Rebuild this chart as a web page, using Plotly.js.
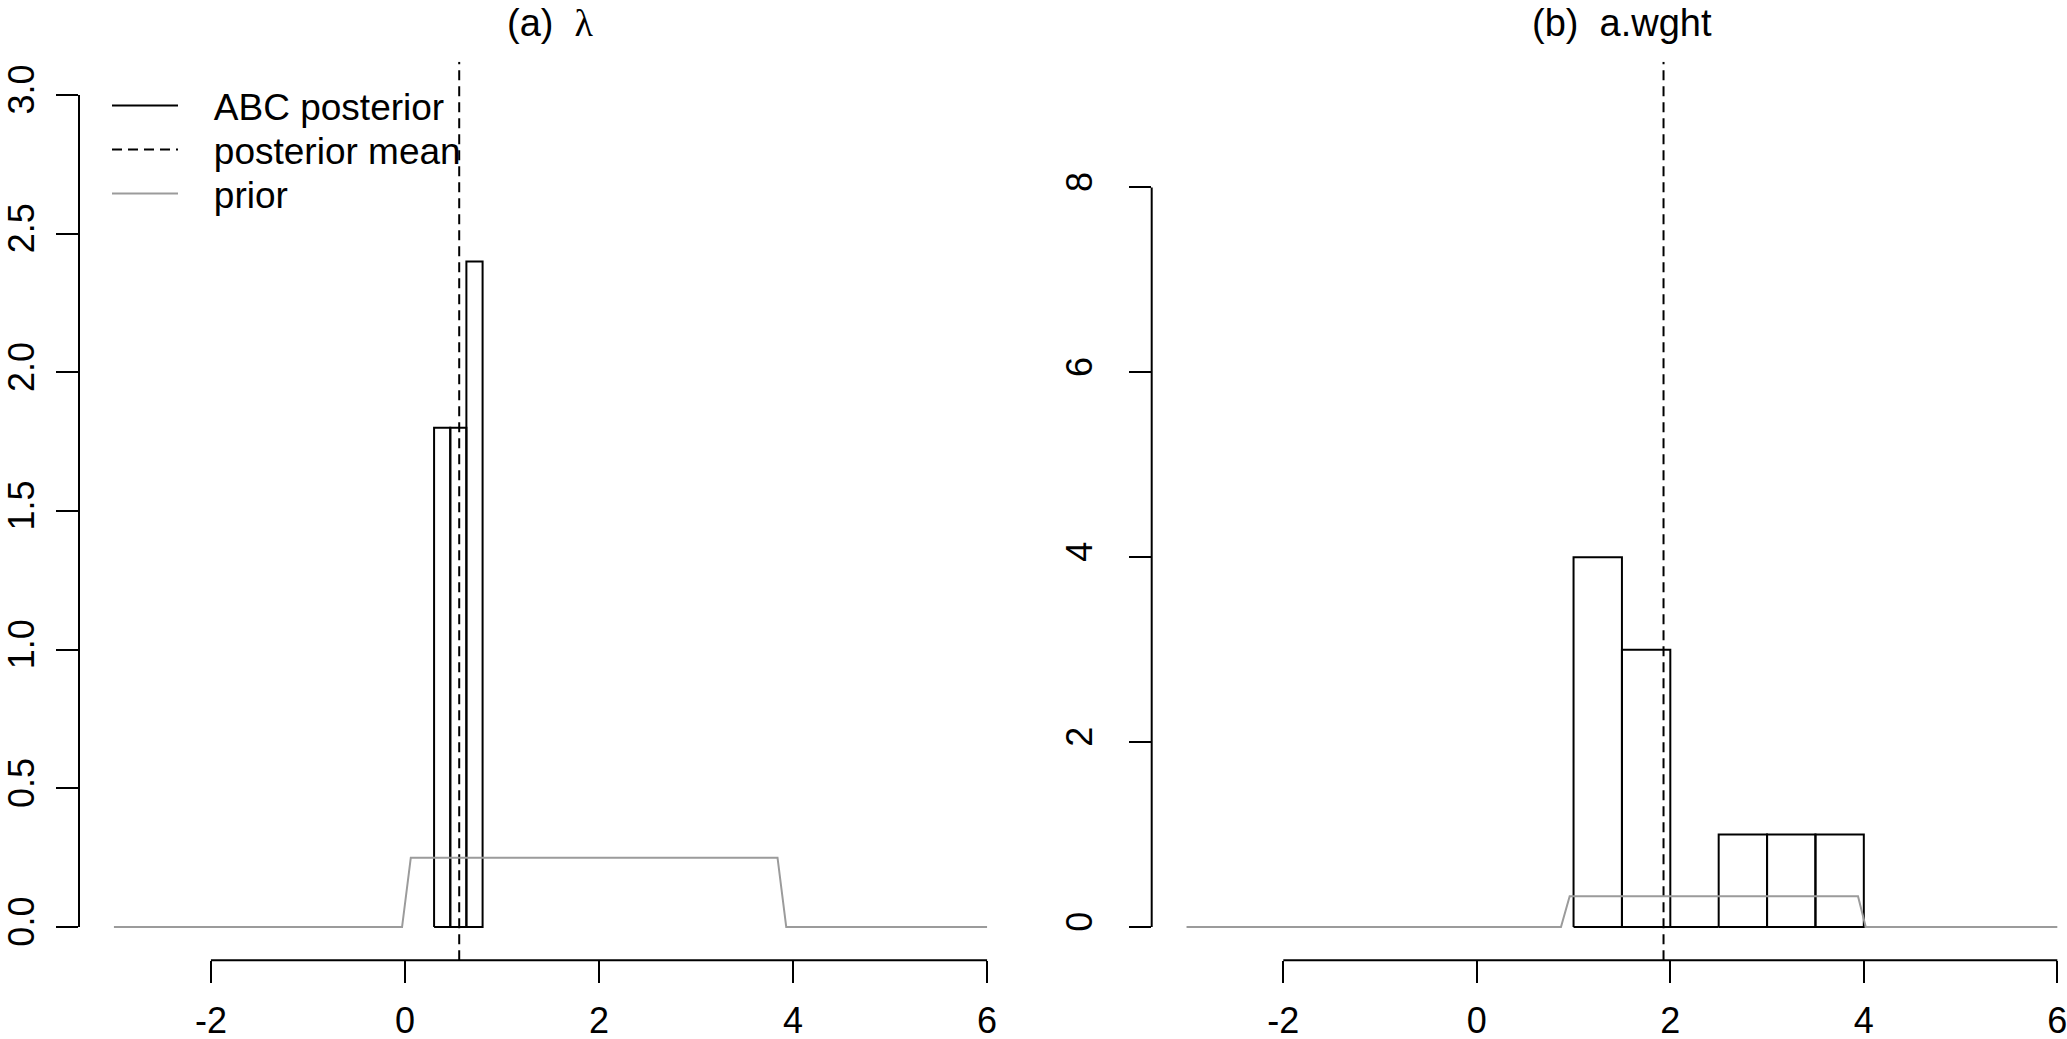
<!DOCTYPE html>
<html><head><meta charset="utf-8">
<script src="https://cdn.plot.ly/plotly-3.0.1.min.js"></script>
<style>html,body{margin:0;padding:0;background:#fff;}#chart{width:2067px;height:1039px;}</style>
</head><body><div id="chart"></div>
<script>
// ---- data ----
const panelTitles = ['(a)', '(b)'];
const panelParams = ['λ', 'a.wght'];
const legendNames = ['ABC posterior', 'posterior mean', 'prior'];

const lambdaBreaks = [0.3, 0.467, 0.633, 0.8];
const lambdaDensity = [1.8, 1.8, 2.4];
const lambdaMean = [0.559];
const lambdaPriorX = [-3, -0.03, 0.06, 3.84, 3.93, 6];
const lambdaPriorY = [0, 0, 0.25, 0.25, 0, 0];

const wghtBreaks = [1, 1.5, 2, 2.5, 3, 3.5, 4];
const wghtCounts = [4, 3, 0, 1, 1, 1];
const wghtMean = [1.93];
const wghtPriorX = [-3, 0.87, 0.96, 3.94, 4.02, 6];
const wghtPriorY = [0, 0, 0.333, 0.333, 0, 0];

const xTicks = [-2, 0, 2, 4, 6];
const xTickLabels = ['-2', '0', '2', '4', '6'];
const lambdaYTicks = [0, 0.5, 1, 1.5, 2, 2.5, 3];
const lambdaYLabels = ['0.0', '0.5', '1.0', '1.5', '2.0', '2.5', '3.0'];
const wghtYTicks = [0, 2, 4, 6, 8];
const wghtYLabels = ['0', '2', '4', '6', '8'];

// ---- styling ----
const FONT = 'Liberation Sans, Arial, sans-serif';
const TICK_FS = 36;
const LEG_FS = 37;
const TITLE_FS = 38;
const BLACK = '#000000';
const GREY = '#9b9b9b';
const yRangeA = [-0.12, 3.12];
const yRangeB = [-0.36, 9.36];
const NB = '\u00a0';

function histOutline(breaks, heights) {
  const x = [], y = [];
  for (let i = 0; i < heights.length; i++) {
    x.push(breaks[i], breaks[i], breaks[i + 1], breaks[i + 1], breaks[i], null);
    y.push(0, heights[i], heights[i], 0, 0, null);
  }
  return {x, y};
}

const hA = histOutline(lambdaBreaks, lambdaDensity);
const hB = histOutline(wghtBreaks, wghtCounts);
const pad = NB + NB + NB;

const traces = [
  {x: hA.x, y: hA.y, xaxis: 'x', yaxis: 'y', type: 'scatter', mode: 'lines',
   line: {color: BLACK, width: 2}, name: pad + legendNames[0], showlegend: true, legend: 'legend', hoverinfo: 'skip'},
  {x: [lambdaMean[0], lambdaMean[0]], y: yRangeA, xaxis: 'x', yaxis: 'y', type: 'scatter', mode: 'lines',
   line: {color: BLACK, width: 2, dash: '10px,6px'}, name: pad + legendNames[1], showlegend: true, legend: 'legend2', cliponaxis: false},
  {x: lambdaPriorX, y: lambdaPriorY, xaxis: 'x', yaxis: 'y', type: 'scatter', mode: 'lines',
   line: {color: GREY, width: 2}, name: pad + legendNames[2], showlegend: true, legend: 'legend3'},
  {x: hB.x, y: hB.y, xaxis: 'x2', yaxis: 'y2', type: 'scatter', mode: 'lines',
   line: {color: BLACK, width: 2}, showlegend: false, hoverinfo: 'skip'},
  {x: [wghtMean[0], wghtMean[0]], y: yRangeB, xaxis: 'x2', yaxis: 'y2', type: 'scatter', mode: 'lines',
   line: {color: BLACK, width: 2, dash: '10px,6px'}, showlegend: false, cliponaxis: false},
  {x: wghtPriorX, y: wghtPriorY, xaxis: 'x2', yaxis: 'y2', type: 'scatter', mode: 'lines',
   line: {color: GREY, width: 2}, showlegend: false}
];

const W = 2067, H = 1039;
const yDom = [(H - 960.3) / H, (H - 61.7) / H];

function xAxis(domain, range, anchor) {
  return {domain, range, anchor, tickvals: xTicks, ticktext: xTickLabels,
    ticks: 'outside', ticklen: 22, tickwidth: 2, tickcolor: BLACK,
    ticklabelstandoff: 6, ticklabeloverflow: 'allow',
    showline: false, showgrid: false, zeroline: false,
    tickfont: {family: FONT, size: TICK_FS, color: BLACK}, fixedrange: true};
}
function yAxis(range, anchor, vals, labels, standoff) {
  return {domain: yDom, range, anchor, tickvals: vals, ticktext: labels,
    ticks: 'outside', ticklen: 22, tickwidth: 2, tickcolor: BLACK, tickangle: -90,
    ticklabelstandoff: standoff, ticklabeloverflow: 'allow',
    showline: false, showgrid: false, zeroline: false,
    tickfont: {family: FONT, size: TICK_FS, color: BLACK}, fixedrange: true};
}
function legendBox(centerY) {
  return {x: 107 / W, y: (H - (centerY - 32)) / H, xanchor: 'left', yanchor: 'top',
    bgcolor: 'rgba(0,0,0,0)', borderwidth: 0, itemwidth: 66,
    font: {family: FONT, size: LEG_FS, color: BLACK}};
}

const layout = {
  width: W, height: H,
  margin: {l: 0, r: 0, t: 0, b: 0, pad: 0},
  paper_bgcolor: '#ffffff', plot_bgcolor: '#ffffff',
  font: {family: FONT, size: TICK_FS, color: BLACK},
  showlegend: true,
  legend: legendBox(107),
  legend2: legendBox(151),
  legend3: legendBox(195),
  xaxis: xAxis([79 / W, 1022 / W], [-3.36, 6.36], 'y'),
  yaxis: yAxis(yRangeA, 'x', lambdaYTicks, lambdaYLabels, 8),
  xaxis2: xAxis([1151.7 / W, 1], [-3.36, 6.10], 'y2'),
  yaxis2: yAxis(yRangeB, 'x2', wghtYTicks, wghtYLabels, 22),
  shapes: [
    {type: 'line', xref: 'x', yref: 'y domain', x0: xTicks[0], x1: xTicks[xTicks.length - 1], y0: 0, y1: 0,
     line: {color: BLACK, width: 2}},
    {type: 'line', xref: 'x domain', yref: 'y', x0: 0, x1: 0, y0: lambdaYTicks[0], y1: lambdaYTicks[lambdaYTicks.length - 1],
     line: {color: BLACK, width: 2}},
    {type: 'line', xref: 'x2', yref: 'y2 domain', x0: xTicks[0], x1: xTicks[xTicks.length - 1], y0: 0, y1: 0,
     line: {color: BLACK, width: 2}},
    {type: 'line', xref: 'x2 domain', yref: 'y2', x0: 0, x1: 0, y0: wghtYTicks[0], y1: wghtYTicks[wghtYTicks.length - 1],
     line: {color: BLACK, width: 2}}
  ],
  annotations: [
    {xref: 'paper', yref: 'paper', x: 550 / W, y: (H - 23) / H, xanchor: 'center', yanchor: 'middle',
     showarrow: false, font: {family: FONT, size: TITLE_FS, color: BLACK},
     text: panelTitles[0] + NB + NB + '<span style="font-family:\'Liberation Serif\', serif">' + panelParams[0] + '</span>'},
    {xref: 'paper', yref: 'paper', x: 1622 / W, y: (H - 23) / H, xanchor: 'center', yanchor: 'middle',
     showarrow: false, font: {family: FONT, size: TITLE_FS, color: BLACK},
     text: panelTitles[1] + NB + NB + panelParams[1]}
  ]
};

Plotly.newPlot('chart', traces, layout, {displayModeBar: false, staticPlot: true});
</script>
</body></html>
